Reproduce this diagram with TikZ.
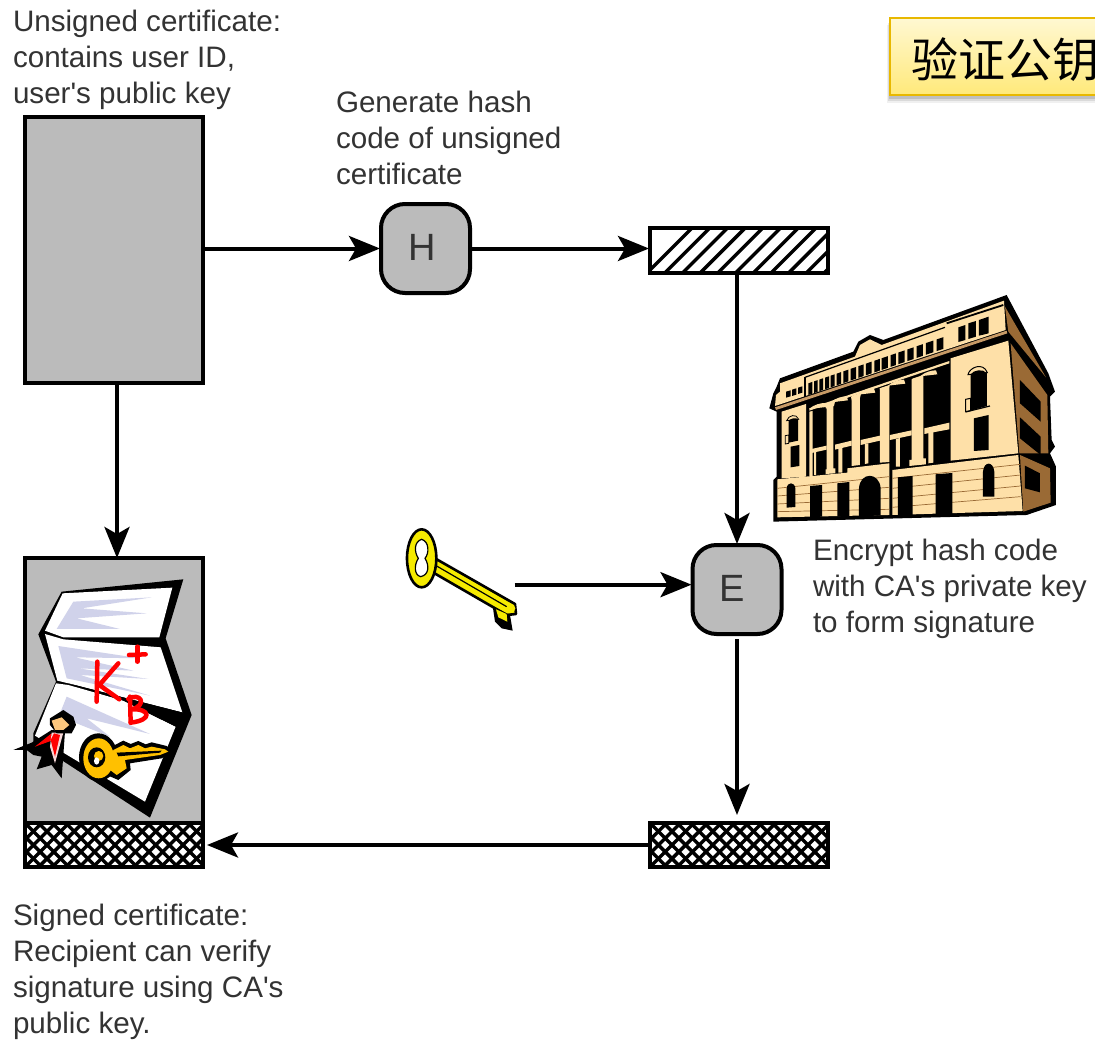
\documentclass[tikz,border=0pt]{standalone}
\usepackage{fontspec}
\usetikzlibrary{arrows.meta,calc}
\newfontfamily\lblfont{Liberation Sans}
\newfontfamily\cjkfont{Noto Sans CJK SC}
\definecolor{boxgray}{HTML}{BBBBBB}
\definecolor{txt}{HTML}{333333}
\definecolor{cream}{HTML}{FEE0A8}
\definecolor{brownside}{HTML}{9A6A35}
\definecolor{tanstripe}{HTML}{C79A66}
\definecolor{lav}{HTML}{D0D2EA}
\definecolor{gold}{HTML}{FFC000}
\definecolor{keyy}{HTML}{F5EA00}
\definecolor{titleedge}{HTML}{E8B800}
\definecolor{titletop}{HTML}{FFF8D2}
\definecolor{titlebot}{HTML}{FFE97A}
\definecolor{skin}{HTML}{FDC77E}
\definecolor{tiepink}{HTML}{F8D8D8}
\tikzset{
  boxnode/.style={draw=black,line width=4pt,fill=boxgray,rectangle,inner sep=0pt,outer sep=0pt},
  whitebox/.style={boxnode,fill=white},
  procnode/.style={draw=black,line width=4pt,fill=boxgray,rectangle,rounded corners=24pt,inner sep=0pt,outer sep=0pt,minimum width=89pt,minimum height=89pt,font=\lblfont\fontsize{38}{38}\selectfont,text=txt},
  lbl/.style={anchor=north west,inner sep=0pt,outer sep=0pt,align=left,text=txt,font=\lblfont\fontsize{29.6}{36}\selectfont},
  arrowline/.style={line width=4pt,-{Stealth[length=31pt,width=25pt,inset=7pt]}},
  hatchline/.style={line width=3.4pt,black},
  redstroke/.style={draw=red,line width=4.5pt,line cap=round,line join=round},
}
\begin{document}
\begin{tikzpicture}[x=1pt,y=-1pt]
\useasboundingbox (0,0) rectangle (1095,1046);
\fill[white] (0,0) rectangle (1095,1046);

% title box
\begin{scope}
\clip (0,0) rectangle (1095,1046);
\foreach \o/\a in {7/0.06,5/0.09,3/0.12}{
  \fill[black,opacity=\a] (890-\o/2,18+\o) rectangle (1110,96+\o);
}
\node[anchor=north west,draw=titleedge,line width=2pt,top color=titletop,bottom color=titlebot,minimum width=225pt,minimum height=77pt,inner sep=0pt,outer sep=0pt] (titlebox) at (890,18) {};
\node[anchor=west,inner sep=0pt,font=\cjkfont\fontsize{47}{47}\selectfont,text=black] (title) at (911,60) {验证公钥};
\end{scope}

% text
\node[lbl] (t1) at (13,10) {Unsigned certificate:\\contains user ID,\\user's public key};
\node[lbl] (t2) at (336,91) {Generate hash\\code of unsigned\\certificate};
\node[lbl] (t3) at (813,539) {Encrypt hash code\\with CA's private key\\to form signature};
\node[lbl] (t4) at (13,904) {Signed certificate:\\Recipient can verify\\signature using CA's\\public key.};

% boxes
\node[boxnode,minimum width=178pt,minimum height=266pt] (unsigned) at (114,250) {};
\node[procnode] (H) at (425.5,248.5) {\raisebox{3pt}{H\hspace*{7pt}}};
\node[whitebox,minimum width=178pt,minimum height=45pt] (hash) at (739,250.5) {};
\node[procnode] (E) at (737,589.5) {\raisebox{3pt}{E\hspace*{9pt}}};
\node[boxnode,minimum width=178pt,minimum height=265pt] (cert) at (114,690.5) {};
\node[whitebox,minimum width=178pt,minimum height=44pt] (sigcert) at (114,845) {};
\node[whitebox,minimum width=178pt,minimum height=44pt] (sig) at (739,845) {};

% hatching
\begin{scope}
\clip (hash.south west) rectangle (hash.north east);
\foreach \i in {0,...,14}{\draw[hatchline] (640+17.7*\i,280) -- ++(60,-60);}
\end{scope}
\draw[black,line width=4pt] (hash.south west) rectangle (hash.north east);
\foreach \n in {sigcert,sig}{
\begin{scope}
\clip (\n.south west) rectangle (\n.north east);
\foreach \i in {-5,...,18}{
  \draw[hatchline] ($(\n.south west)+(13.6*\i,0)$) -- ++(50,-50);
  \draw[hatchline] ($(\n.north west)+(13.6*\i,0)$) -- ++(50,50);
}
\end{scope}
\draw[black,line width=4pt] (\n.south west) rectangle (\n.north east);
}

% building
\begin{scope}[shift={(760,280)},scale=0.3333]
\fill[black] (60,295)--(280,215)--(295,185)--(330,165)--(370,180)--(740,45)--(865,280)--(885,335)--(870,350)--(875,480)--(885,500)--(870,520)--(888,560)--(888,675)--(800,705)--(40,725)--(40,600)--(50,590)--(50,395)--(28,385)--(40,340)--(50,320)--cycle;
% side
\fill[brownside] (735,80)--(858,292)--(745,155)--cycle;
\fill[brownside] (752,190)--(862,345)--(865,520)--(778,520)--cycle;
\fill[brownside] (780,525)--(870,565)--(872,668)--(790,695)--cycle;
\fill[black] (780,300)--(842,365)--(842,425)--(780,370)--cycle;
\fill[black] (780,412)--(842,470)--(842,525)--(780,475)--cycle;
\fill[black] (795,557)--(840,580)--(840,637)--(795,625)--cycle;
% frieze
\fill[cream] (60,310)--(285,230)--(300,195)--(330,178)--(365,195)--(732,62)--(737,150)--(45,378)--(48,345)--(60,335)--cycle;
\fill[tanstripe] (45,382)--(740,152)--(742,160)--(48,390)--cycle;
\draw[black,line width=1.2pt] (135,292)--(135,350);
\draw[black,line width=1.2pt] (135,292)--(555,142);
\draw[black,line width=1.8pt] (560,130)--(730,75);
\foreach \x/\w in {145/12,162/11,178/11,195/12,212/12,230/13,250/15,272/16,295/16,318/17,343/17,365/19,392/16,415/19,442/19,470/19,498/22,530/20}{
  \fill[black] (\x,{310-(\x-145)*0.342}) -- (\x+\w,{310-(\x+\w-145)*0.342}) -- (\x+\w,{345-(\x+\w-145)*0.342}) -- (\x,{345-(\x-145)*0.342}) -- cycle;
}
\fill[black] (595,142)--(616,135)--(616,180)--(595,186)--cycle;
\fill[black] (625,130)--(648,123)--(648,170)--(625,177)--cycle;
\fill[black] (657,120)--(686,110)--(686,160)--(657,167)--cycle;
\fill[black] (78,335)--(92,331)--(92,349)--(78,353)--cycle;
\fill[black] (96,329)--(109,325)--(109,344)--(96,348)--cycle;
\fill[black] (114,323)--(127,319)--(127,338)--(114,342)--cycle;
% piers
\fill[cream] (65,395)--(138,372)--(138,590)--(65,595)--cycle;
\fill[cream] (572,235)--(745,182)--(775,520)--(572,542)--cycle;
% colonnade: cream members on the black front
\fill[cream] (148,385)--(568,243)--(568,250)--(148,392)--cycle;
\fill[cream] (148,395)--(158,393)--(158,588)--(148,588)--cycle;
\fill[cream] (200,372)--(220,366)--(220,565)--(226,565)--(226,580)--(197,582)--(197,568)--(200,568)--cycle;
\fill[cream] (275,348)--(300,340)--(300,555)--(275,558)--cycle;
\fill[cream] (360,325)--(388,316)--(388,546)--(360,548)--cycle;
\fill[cream] (455,298)--(490,287)--(490,535)--(498,535)--(498,553)--(448,558)--(448,540)--(455,540)--cycle;
% horizontal bands and short posts
\fill[cream] (155,507)--(200,497)--(200,509)--(155,519)--cycle;
\fill[cream] (225,494)--(275,482)--(275,497)--(225,509)--cycle;
\fill[cream] (302,480)--(360,467)--(360,482)--(302,495)--cycle;
\fill[cream] (390,465)--(455,451)--(455,466)--(390,480)--cycle;
\fill[cream] (493,445)--(568,428)--(568,448)--(493,462)--cycle;
\fill[cream] (162,515)--(168,514)--(168,585)--(162,585)--cycle;
\fill[cream] (235,505)--(247,503)--(247,578)--(235,578)--cycle;
\fill[cream] (315,492)--(325,490)--(325,550)--(315,552)--cycle;
\fill[cream] (408,477)--(420,474)--(420,560)--(408,560)--cycle;
\fill[cream] (505,458)--(520,455)--(520,548)--(505,550)--cycle;
% capitals
\foreach \x/\y in {175/375,240/355,322/332,412/305,508/277}{
  \fill[cream] (\x-28,\y+12) .. controls (\x-12,\y-2) and (\x+8,\y-6) .. (\x+20,\y-6) -- (\x+24,\y+6) -- cycle;
}
\foreach \x/\y in {210/372,288/348,374/322,472/293}{
  \fill[cream] (\x-15,\y+3) -- (\x+15,\y-7) -- (\x+12,\y+6) -- (\x-12,\y+14) -- cycle;
}
% right pier windows
\fill[cream,draw=black,line width=1pt] (624,284) .. controls (628,262) and (670,245) .. (682,278) -- cycle;
\fill[black] (632,283) .. controls (640,270) and (670,265) .. (681,280) -- (681,378) -- (632,392) -- cycle;
\fill[cream,draw=black,line width=1pt] (617,358)--(632,355)--(632,392)--(617,395)--cycle;
\draw[black,line width=1.2pt] (617,396)--(690,378);
\fill[black] (642,415)--(686,405)--(686,510)--(642,513)--cycle;
% left pier windows
\fill[cream,draw=black,line width=.8pt] (80,422) .. controls (85,405) and (110,400) .. (116,418) -- cycle;
\fill[black] (86,422) .. controls (92,415) and (108,412) .. (114,418) -- (114,482) -- (86,488) -- cycle;
\fill[cream,draw=black,line width=.8pt] (76,467)--(86,465)--(86,490)--(76,492)--cycle;
\fill[black] (92,500)--(118,495)--(118,558)--(92,562)--cycle;
% ground floor
\fill[cream] (52,598)--(262,578)--(262,565)--(388,550)--(388,705)--(52,712)--cycle;
\fill[cream] (397,570)--(775,525)--(788,693)--(397,705)--cycle;
\foreach \a/\b in {625/590,648/622,672/655,695/688}{\draw[brownside,line width=.7pt] (52,\a)--(388,\b);}
\foreach \a/\b in {595/553,625/585,655/618,682/650}{\draw[brownside,line width=.7pt] (397,\a)--(782,\b);}
\fill[black] (80,683) -- (80,625) .. controls (82,605) and (104,605) .. (106,625) -- (106,681) -- cycle;
\fill[black] (150,618)--(186,615)--(186,710)--(150,712)--cycle;
\fill[black] (232,610)--(268,606)--(268,708)--(232,710)--cycle;
\fill[black] (297,710) -- (297,625) .. controls (300,575) and (358,575) .. (362,625) -- (362,706) -- cycle;
\fill[black] (414,592)--(458,588)--(458,705)--(414,706)--cycle;
\fill[black] (527,583)--(577,579)--(577,704)--(527,705)--cycle;
\fill[black] (669,650) -- (669,575) .. controls (672,543) and (700,543) .. (703,575) -- (703,650) -- cycle;
\end{scope}

% certificate icon
\begin{scope}[shift={(0,550)},scale=0.3333]
\fill[black] (185,125)--(550,88)--(497,265)--(575,495)--(450,803)--(100,575)--(100,550)--(168,395)--(115,253)--cycle;
\fill[white] (188,130)--(517,113)--(478,262)--(190,262)--(135,242)--cycle;
\fill[white] (135,252)--(190,268)--(482,292)--(547,487)--(205,400)--(172,392)--cycle;
\fill[white] (168,400)--(205,405)--(370,452)--(527,530)--(435,755)--(105,557)--cycle;
\fill[lav] (220,155)--(455,142)--(245,175)--(440,190)--(230,205)--(360,237)--(170,237)--cycle;
\fill[lav] (175,288)--(420,325)--(225,322)--(400,362)--(235,355)--(445,387)--(240,375)--(450,437)--(200,385)--cycle;
\fill[lav] (200,440)--(450,552)--(260,505)--(330,560)--(230,520)--(180,490)--cycle;
\fill[black] (205,400)--(548,488)--(527,530)--(370,452)--cycle;
% ribbon and head
\fill[black] (40,600)--(95,578)--(155,540)--(195,545)--(185,685)--(155,645)--(110,658)--(125,620)--(100,615)--(80,600)--cycle;
\fill[red] (105,590)--(155,550)--(155,572)--cycle;
\fill[tiepink] (155,548)--(190,548)--(165,640)--(150,590)--cycle;
\fill[red] (162,550)--(180,555)--(165,620)--(152,570)--cycle;
\fill[black] (150,505)--(190,480)--(220,500)--(228,525)--(215,550)--(170,550)--(150,525)--cycle;
\fill[skin] (155,512)--(185,502)--(208,525)--(190,540)--(165,540)--cycle;
% gold key
\fill[black] (335,590)--(370,572)--(392,582)--(415,573)--(437,583)--(455,577)--(500,588)--(515,605)--(485,625)--(390,640)--(392,660)--(355,690)--(320,675)--cycle;
\fill[black] (295,622) ellipse [x radius=58,y radius=72];
\fill[gold] (340,600)--(370,585)--(390,595)--(415,585)--(435,595)--(455,590)--(495,598)--(505,605)--(480,615)--(375,630)--(380,655)--(350,675)--(330,660)--cycle;
\fill[gold] (296,625) ellipse [x radius=46,y radius=60];
\fill[black] (290,622) ellipse [x radius=26,y radius=30];
\fill[gold] (296,618) ellipse [x radius=14,y radius=15];
\fill[white] (290,633) ellipse [x radius=8,y radius=11];
\fill[black] (350,608)--(485,602)--(480,608)--(355,619)--cycle;
% K B +
\draw[redstroke] (292,335)--(290,455);
\draw[redstroke] (355,340)--(298,405)--(358,448);
\draw[redstroke] (412,290)--(412,335);
\draw[redstroke] (387,315)--(437,313);
\draw[redstroke] (390,440)--(392,518);
\draw[redstroke] (385,447) .. controls (420,425) and (445,465) .. (395,478) .. controls (450,475) and (460,510) .. (392,518);
\end{scope}

% yellow key
\begin{scope}[shift={(390,510)},scale=0.3333]
\draw[black,line width=2.6pt,fill=keyy,line join=round] (135,145)--(375,282)--(378,312)--(350,315)--(125,185)--cycle;
\draw[black,line width=1.2pt] (140,168)--(350,290);
\fill[black] (308,288)--(360,315)--(368,362)--(335,355)--(315,335)--cycle;
\fill[keyy] (318,298)--(350,312)--(352,335)--(325,322)--cycle;
\draw[black,line width=2.6pt,fill=keyy] (95,145) ellipse [x radius=44,y radius=87];
\draw[black,line width=1.2pt,fill=white] (95,88) .. controls (118,95) and (118,130) .. (105,145) .. controls (118,165) and (118,195) .. (92,200) .. controls (72,195) and (72,165) .. (85,145) .. controls (72,125) and (72,95) .. (95,88) -- cycle;
\fill[keyy] (363,295) circle [radius=13];
\coordinate (keyend) at (374,224);
\end{scope}

% connectors
\draw[arrowline,shorten >=1pt] (unsigned.east |- H.west) -- (H.west);
\draw[arrowline,shorten >=1pt] (H.east) -- (H.east -| hash.west);
\draw[arrowline,shorten >=1pt] (hash.south -| E.north) -- (E.north);
\draw[arrowline,shorten >=1pt] (keyend) -- (keyend -| E.west);
\draw[arrowline,shorten <=5pt,shorten >=8pt] (E.south) -- (sig.north -| E.south);
\draw[arrowline,shorten >=4pt] (sig.west) -- (sigcert.east);
\draw[arrowline] ([xshift=3pt]unsigned.south) -- ([xshift=3pt]cert.north);
\end{tikzpicture}
\end{document}
